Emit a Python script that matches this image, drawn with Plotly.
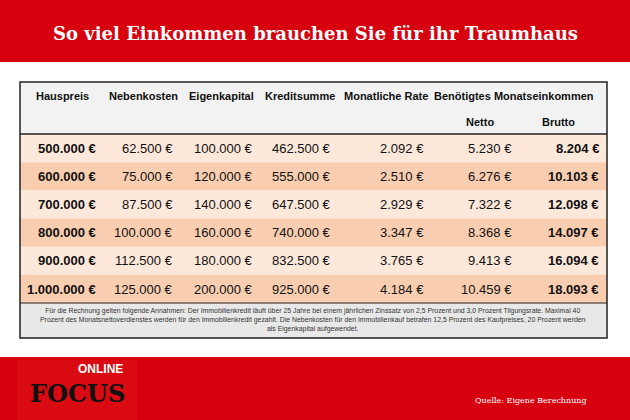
import plotly.graph_objects as go

hauspreis = ["500.000 €", "600.000 €", "700.000 €", "800.000 €", "900.000 €", "1.000.000 €"]
nebenkosten = ["62.500 €", "75.000 €", "87.500 €", "100.000 €", "112.500 €", "125.000 €"]
eigenkapital = ["100.000 €", "120.000 €", "140.000 €", "160.000 €", "180.000 €", "200.000 €"]
kreditsumme = ["462.500 €", "555.000 €", "647.500 €", "740.000 €", "832.500 €", "925.000 €"]
rate = ["2.092 €", "2.510 €", "2.929 €", "3.347 €", "3.765 €", "4.184 €"]
netto = ["5.230 €", "6.276 €", "7.322 €", "8.368 €", "9.413 €", "10.459 €"]
brutto = ["8.204 €", "10.103 €", "12.098 €", "14.097 €", "16.094 €", "18.093 €"]

headers = ["Hauspreis", "Nebenkosten", "Eigenkapital", "Kreditsumme", "Monatliche Rate"]
header_x = [62, 143, 221, 300, 386]
sub_headers = ["Netto", "Brutto"]
sub_x = [480, 558]

columns = [hauspreis, nebenkosten, eigenkapital, kreditsumme, rate, netto, brutto]
right_edges = [98, 175, 255, 333, 426, 514, 601]
bold_cols = {0, 6}

note = ("Für die Rechnung gelten folgende Annahmen: Der Immobilienkredit läuft über 25 Jahre bei einem jährlichen Zinssatz von 2,5 Prozent und 3,0 Prozent Tilgungsrate. Maximal 40<br>"
        "Prozent des Monatsnettoverdienstes werden für den Immobilienkredit gezahlt. Die Nebenkosten für den Immobilienkauf betrafen 12,5 Prozent des Kaufpreises, 20 Prozent werden<br>"
        "als Eigenkapital aufgewendet.")

RED = "#d7000f"
row_top, row_h = 134, 28.2

fig = go.Figure()
shapes = [
    dict(type="rect", x0=0, x1=630, y0=0, y1=62, fillcolor=RED, line_width=0),
    dict(type="rect", x0=0, x1=630, y0=357, y1=420, fillcolor=RED, line_width=0),
    dict(type="rect", x0=17, x1=137, y0=360, y1=420, fillcolor="#d90a12", line_width=0),
    dict(type="rect", x0=20, x1=607, y0=82, y1=134, fillcolor="#f2f2f2", line_width=0),
    dict(type="rect", x0=20, x1=607, y0=303, y1=338, fillcolor="#e8e8e8", line_width=0),
]
for i in range(len(hauspreis)):
    shapes.append(dict(type="rect", x0=20, x1=607, y0=row_top + i * row_h, y1=row_top + (i + 1) * row_h,
                       fillcolor="#fde8da" if i % 2 == 0 else "#f9cdb0", line_width=0))
shapes += [
    dict(type="line", x0=20, x1=607, y0=134, y1=134, line=dict(color="#222", width=1.5)),
    dict(type="line", x0=20, x1=607, y0=303, y1=303, line=dict(color="#222", width=1)),
    dict(type="rect", x0=20, x1=607, y0=82, y1=338, line=dict(color="#222", width=1.5)),
]

ann = [dict(x=315, y=33, text="<b>So viel Einkommen brauchen Sie für ihr Traumhaus</b>",
            font=dict(family="DejaVu Serif, serif", size=18, color="white"))]
for h, x in zip(headers, header_x):
    ann.append(dict(x=x, y=96, text=f"<b>{h}</b>", font=dict(size=11)))
ann.append(dict(x=514, y=96, text="<b>Benötigtes Monatseinkommen</b>", font=dict(size=11)))
for h, x in zip(sub_headers, sub_x):
    ann.append(dict(x=x, y=122, text=f"<b>{h}</b>", font=dict(size=11)))
for c, (col, xr) in enumerate(zip(columns, right_edges)):
    for i, v in enumerate(col):
        t = f"<b>{v}</b>" if c in bold_cols else v
        ann.append(dict(x=xr, y=row_top + (i + 0.5) * row_h, text=t, xanchor="right", font=dict(size=13)))
ann.append(dict(x=313, y=320, text=note, font=dict(size=6.9, color="#333")))
ann.append(dict(x=100, y=369, text="<b>ONLINE</b>", font=dict(size=12, color="white")))
ann.append(dict(x=77, y=393, text="<b>FOCUS</b>", font=dict(family="DejaVu Serif, serif", size=24, color="#111")))
ann.append(dict(x=589, y=400, text="Quelle: Eigene Berechnung", xanchor="right",
                font=dict(family="DejaVu Serif, serif", size=8, color="white")))
for a in ann:
    a.setdefault("showarrow", False)
    a.setdefault("xanchor", "center")
    a.setdefault("yanchor", "middle")
    a["font"].setdefault("family", "Liberation Sans, Arial, sans-serif")
    a["font"].setdefault("color", "#111")

fig.update_layout(
    width=630, height=420, margin=dict(l=0, r=0, t=0, b=0),
    paper_bgcolor="white", plot_bgcolor="white",
    xaxis=dict(range=[0, 630], visible=False),
    yaxis=dict(range=[420, 0], visible=False),
    shapes=shapes, annotations=ann, showlegend=False,
)
fig.write_html("out.html", config={"displayModeBar": False},
               post_script="document.body.style.margin='0';document.body.style.overflow='hidden';")
